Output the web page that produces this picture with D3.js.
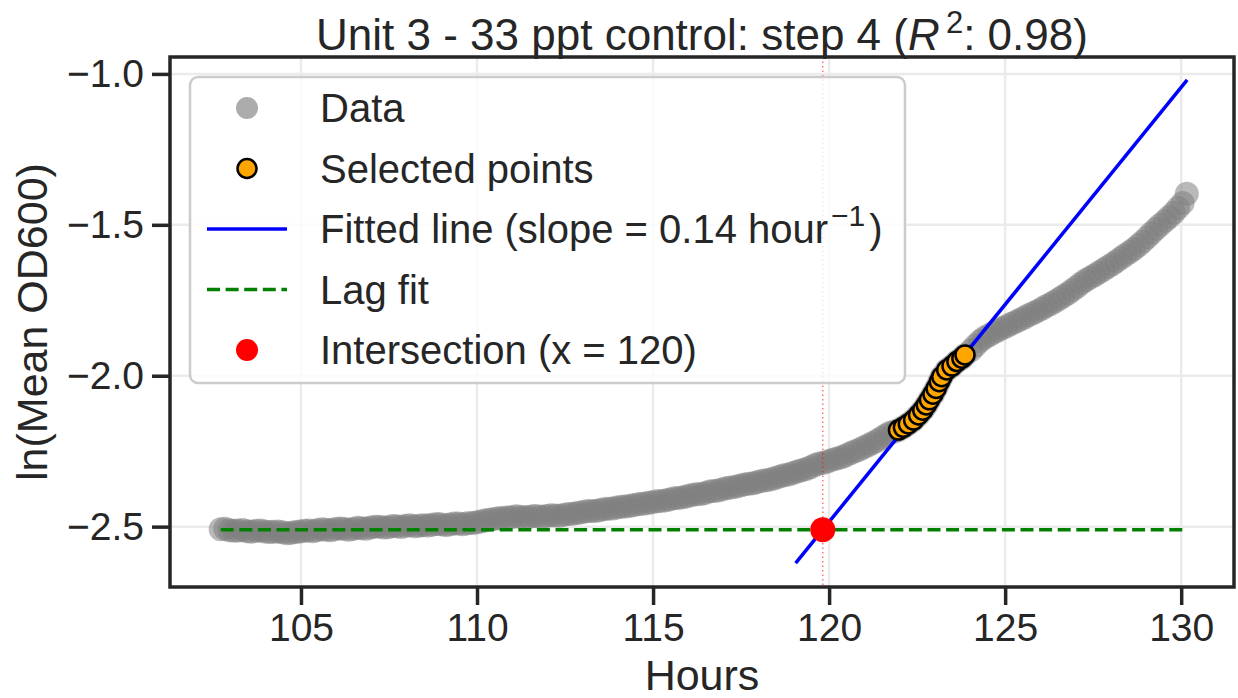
<!DOCTYPE html>
<html>
<head>
<meta charset="utf-8">
<script src="https://cdn.jsdelivr.net/npm/d3@7"></script>
<style>
  html, body { margin: 0; padding: 0; background: #fff; }
  svg { display: block; font-family: "Liberation Sans", Arial, sans-serif; }
</style>
</head>
<body>
<svg id="chart" width="1238" height="698"></svg>
<script>
// Growth curve for Unit 3 (33 ppt control), step 4
const hours = [
  102.72, 102.85, 102.97, 103.10, 103.22, 103.35, 103.47, 103.60, 103.72, 103.85,
  103.97, 104.10, 104.22, 104.35, 104.47, 104.60, 104.72, 104.85, 104.97, 105.10,
  105.22, 105.35, 105.47, 105.60, 105.72, 105.85, 105.97, 106.10, 106.22, 106.35,
  106.47, 106.60, 106.72, 106.85, 106.97, 107.10, 107.22, 107.35, 107.47, 107.60,
  107.72, 107.85, 107.97, 108.10, 108.22, 108.35, 108.47, 108.60, 108.72, 108.85,
  108.97, 109.10, 109.22, 109.35, 109.47, 109.60, 109.72, 109.85, 109.97, 110.10,
  110.22, 110.35, 110.47, 110.60, 110.72, 110.85, 110.97, 111.10, 111.22, 111.35,
  111.47, 111.60, 111.72, 111.85, 111.97, 112.10, 112.22, 112.35, 112.47, 112.60,
  112.72, 112.85, 112.97, 113.10, 113.22, 113.35, 113.47, 113.60, 113.72, 113.85,
  113.97, 114.10, 114.22, 114.35, 114.47, 114.60, 114.72, 114.85, 114.97, 115.10,
  115.22, 115.35, 115.47, 115.60, 115.72, 115.85, 115.97, 116.10, 116.22, 116.35,
  116.47, 116.60, 116.72, 116.85, 116.97, 117.10, 117.22, 117.35, 117.47, 117.60,
  117.72, 117.85, 117.97, 118.10, 118.22, 118.35, 118.47, 118.60, 118.72, 118.85,
  118.97, 119.10, 119.22, 119.35, 119.47, 119.60, 119.72, 119.85, 119.97, 120.10,
  120.22, 120.35, 120.47, 120.60, 120.72, 120.85, 120.97, 121.10, 121.22, 121.35,
  121.47, 121.60, 121.72, 121.85,
  121.97, 122.11, 122.25, 122.40, 122.54, 122.66, 122.76, 122.85, 122.95, 123.04,
  123.13, 123.20, 123.34, 123.49, 123.63, 123.77, 123.86,
  124.04, 124.16, 124.29, 124.41, 124.54, 124.66, 124.79, 124.91, 125.04, 125.16,
  125.29, 125.41, 125.54, 125.66, 125.79, 125.91, 126.04, 126.16, 126.29, 126.41,
  126.54, 126.66, 126.79, 126.91, 127.04, 127.16, 127.29, 127.41, 127.54, 127.66,
  127.79, 127.91, 128.04, 128.16, 128.29, 128.41, 128.54, 128.66, 128.79, 128.91,
  129.04, 129.16, 129.29, 129.41, 129.54, 129.66, 129.79, 129.91, 130.04, 130.16
];
const lnOD = [
  -2.509, -2.507, -2.512, -2.514, -2.513, -2.511, -2.515, -2.517, -2.514, -2.513,
  -2.516, -2.518, -2.517, -2.516, -2.519, -2.522, -2.520, -2.518, -2.516, -2.514,
  -2.513, -2.515, -2.511, -2.509, -2.510, -2.512, -2.508, -2.506, -2.507, -2.510,
  -2.508, -2.504, -2.505, -2.507, -2.503, -2.500, -2.500, -2.503, -2.502, -2.498,
  -2.499, -2.501, -2.497, -2.495, -2.499, -2.497, -2.495, -2.496, -2.494, -2.491,
  -2.492, -2.495, -2.493, -2.490, -2.490, -2.492, -2.489, -2.488, -2.486, -2.483,
  -2.480, -2.477, -2.475, -2.472, -2.471, -2.470, -2.469, -2.466, -2.467, -2.469,
  -2.468, -2.465, -2.466, -2.467, -2.465, -2.462, -2.463, -2.464, -2.461, -2.458,
  -2.457, -2.455, -2.452, -2.449, -2.448, -2.448, -2.446, -2.442, -2.441, -2.440,
  -2.437, -2.434, -2.433, -2.431, -2.428, -2.425, -2.424, -2.422, -2.419, -2.416,
  -2.415, -2.413, -2.410, -2.406, -2.405, -2.403, -2.399, -2.395, -2.393, -2.392,
  -2.389, -2.384, -2.382, -2.380, -2.376, -2.372, -2.370, -2.368, -2.364, -2.360,
  -2.358, -2.356, -2.352, -2.348, -2.346, -2.343, -2.339, -2.334, -2.330, -2.327,
  -2.322, -2.317, -2.313, -2.309, -2.303, -2.296, -2.291, -2.288, -2.283, -2.278,
  -2.274, -2.270, -2.264, -2.257, -2.251, -2.245, -2.238, -2.231, -2.224, -2.216,
  -2.207, -2.198, -2.190, -2.185,
  -2.180, -2.171, -2.160, -2.147, -2.130, -2.114, -2.097, -2.080, -2.061, -2.042,
  -2.020, -2.003, -1.981, -1.968, -1.953, -1.942, -1.931,
  -1.915, -1.900, -1.885, -1.874, -1.866, -1.858, -1.850, -1.843, -1.836, -1.829,
  -1.822, -1.815, -1.808, -1.800, -1.793, -1.786, -1.778, -1.770, -1.762, -1.754,
  -1.745, -1.736, -1.727, -1.716, -1.705, -1.694, -1.684, -1.675, -1.667, -1.658,
  -1.649, -1.640, -1.631, -1.621, -1.610, -1.600, -1.590, -1.580, -1.568, -1.555,
  -1.541, -1.527, -1.513, -1.500, -1.487, -1.474, -1.460, -1.444, -1.428, -1.397
];

// Window used for the exponential fit
const selectedRange = [121.9, 123.9];

// Fit results
const fitSlope = 0.144;          // per hour
const fitR2 = 0.98;
const lagLevel = -2.51;          // ln(OD600) of the lag phase
const intersectionX = 119.82;    // where the fitted line meets the lag level
const fitSpan = [119.05, 130.17];

const xTicks = [105, 110, 115, 120, 125, 130];
const yTicks = [-2.5, -2.0, -1.5, -1.0];

const ink = "#262626";
const svg = d3.select("#chart");

const pLeft = 170, pRight = 1234, pTop = 57, pBottom = 587;

const x = d3.scaleLinear().domain([101.28, 131.5]).range([pLeft, pRight]);
const y = d3.scaleLinear().domain([-2.70, -0.944]).range([pBottom, pTop]);

const fmtTick = v => d3.format(".1f")(v).replace("-", "\u2212");

// grid
const grid = svg.append("g");
grid.selectAll("line.gx").data(xTicks).join("line")
  .attr("x1", d => x(d)).attr("x2", d => x(d))
  .attr("y1", pTop).attr("y2", pBottom)
  .attr("stroke", "#ebebeb").attr("stroke-width", 2.5);
grid.selectAll("line.gy").data(yTicks).join("line")
  .attr("x1", pLeft).attr("x2", pRight)
  .attr("y1", d => y(d)).attr("y2", d => y(d))
  .attr("stroke", "#ebebeb").attr("stroke-width", 2.5);

const plot = svg.append("g");

// raw data
const data = hours.map((h, i) => ({ h, v: lnOD[i] }));
plot.selectAll("circle.data").data(data).join("circle")
  .attr("cx", d => x(d.h)).attr("cy", d => y(d.v)).attr("r", 12)
  .attr("fill", "#808080").attr("fill-opacity", 0.55);

// lag level
plot.append("line")
  .attr("x1", x(hours[0])).attr("x2", x(hours[hours.length - 1]))
  .attr("y1", y(lagLevel)).attr("y2", y(lagLevel))
  .attr("stroke", "green").attr("stroke-width", 3.5)
  .attr("stroke-dasharray", "13,5.6");

// fitted exponential phase
const fitLine = d3.line().x(d => x(d)).y(d => y(lagLevel + fitSlope * (d - intersectionX)));
plot.append("path")
  .attr("d", fitLine(fitSpan))
  .attr("fill", "none").attr("stroke", "blue").attr("stroke-width", 3.5);

// selected points
const selected = data.filter(d => d.h >= selectedRange[0] && d.h <= selectedRange[1]);
plot.selectAll("circle.sel").data(selected).join("circle")
  .attr("cx", d => x(d.h)).attr("cy", d => y(d.v)).attr("r", 9.5)
  .attr("fill", "orange").attr("stroke", "black").attr("stroke-width", 2.5);

// intersection marker
plot.append("line")
  .attr("x1", x(intersectionX)).attr("x2", x(intersectionX))
  .attr("y1", pTop).attr("y2", pBottom)
  .attr("stroke", "red").attr("stroke-opacity", 0.55).attr("stroke-width", 1.5)
  .attr("stroke-dasharray", "1.5,3");
plot.append("circle")
  .attr("cx", x(intersectionX)).attr("cy", y(lagLevel)).attr("r", 12.5)
  .attr("fill", "red");

// frame
svg.append("rect")
  .attr("x", pLeft).attr("y", pTop).attr("width", pRight - pLeft).attr("height", pBottom - pTop)
  .attr("fill", "none").attr("stroke", ink).attr("stroke-width", 3.5);

// axes
const xAxis = d3.axisBottom(x).tickValues(xTicks).tickSize(18).tickPadding(8).tickFormat(d3.format("d"));
const gx = svg.append("g").attr("transform", `translate(0,${pBottom})`).call(xAxis);
const yAxis = d3.axisLeft(y).tickValues(yTicks).tickSize(18).tickPadding(8).tickFormat(fmtTick);
const gy = svg.append("g").attr("transform", `translate(${pLeft},0)`).call(yAxis);
[gx, gy].forEach(g => {
  g.select(".domain").remove();
  g.selectAll(".tick line").attr("stroke", ink).attr("stroke-width", 3.5);
  g.selectAll(".tick text").attr("fill", ink).style("font-size", "39px")
    .style("font-family", "'Liberation Sans', Arial, sans-serif");
});

// labels
svg.append("text")
  .attr("x", (pLeft + pRight) / 2).attr("y", 690)
  .attr("text-anchor", "middle").attr("fill", ink).style("font-size", "43px")
  .text("Hours");
svg.append("text")
  .attr("transform", `translate(47,${(pTop + pBottom) / 2}) rotate(-90)`)
  .attr("text-anchor", "middle").attr("fill", ink).style("font-size", "43px")
  .text("ln(Mean OD600)");

const title = svg.append("text")
  .attr("x", (pLeft + pRight) / 2).attr("y", 50)
  .attr("text-anchor", "middle").attr("fill", ink).style("font-size", "44px");
title.append("tspan").text("Unit 3 - 33 ppt control: step 4 (");
title.append("tspan").style("font-style", "italic").text("R");
title.append("tspan").attr("dy", -17).style("font-size", "31px").text("\u20092");
title.append("tspan").attr("dy", 17).text(": " + d3.format(".2f")(fitR2) + ")");

// legend
const legend = svg.append("g");
legend.append("rect")
  .attr("x", 190).attr("y", 77).attr("width", 715).attr("height", 306)
  .attr("rx", 8).attr("fill", "white").attr("fill-opacity", 0.8)
  .attr("stroke", "#cccccc").attr("stroke-width", 2.5);

const rowY = [108, 168.5, 229, 289.5, 350];
const hx = 247, tx = 320;
legend.append("circle").attr("cx", hx).attr("cy", rowY[0]).attr("r", 11)
  .attr("fill", "#808080").attr("fill-opacity", 0.65);
legend.append("circle").attr("cx", hx).attr("cy", rowY[1]).attr("r", 9.5)
  .attr("fill", "orange").attr("stroke", "black").attr("stroke-width", 2.5);
legend.append("line").attr("x1", 207).attr("x2", 287).attr("y1", rowY[2]).attr("y2", rowY[2])
  .attr("stroke", "blue").attr("stroke-width", 3.5);
legend.append("line").attr("x1", 207).attr("x2", 287).attr("y1", rowY[3]).attr("y2", rowY[3])
  .attr("stroke", "green").attr("stroke-width", 3.5).attr("stroke-dasharray", "13,5.6");
legend.append("circle").attr("cx", hx).attr("cy", rowY[4]).attr("r", 11)
  .attr("fill", "red");

const legText = (i) => legend.append("text")
  .attr("x", tx).attr("y", rowY[i] + 14)
  .attr("fill", ink).style("font-size", "40px");
legText(0).text("Data");
legText(1).text("Selected points");
const lt = legText(2);
lt.append("tspan").text("Fitted line (slope = " + d3.format(".2f")(fitSlope) + " hour");
lt.append("tspan").attr("dy", -17).attr("dx", 3).style("font-size", "30px").text("\u22121");
lt.append("tspan").attr("dy", 17).attr("dx", 4).text(")");
legText(3).text("Lag fit");
legText(4).text("Intersection (x = " + d3.format(".0f")(intersectionX) + ")");
</script>
</body>
</html>
